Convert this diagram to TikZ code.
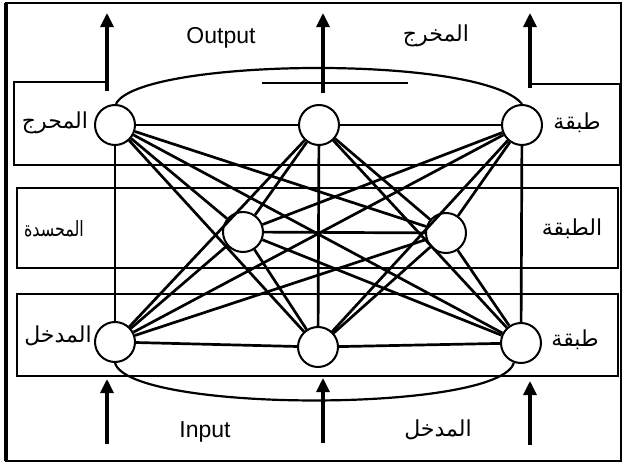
\documentclass[tikz,border=0pt]{standalone}
\usepackage{fontspec}
\usepackage{graphicx}
\setmainfont{Liberation Sans}
\newfontfamily\arabicfont[Script=Arabic]{DejaVu Sans}
\TeXXeTstate=1
\usetikzlibrary{arrows.meta}
\begin{document}
\begin{tikzpicture}[x=1pt,y=-1pt,
  neuron/.style={circle,draw,line width=2pt,fill=white,minimum size=40pt,inner sep=0pt},
  link/.style={line width=2.7pt},
  layerbox/.style={line width=1.6pt},
  arc/.style={line width=2.2pt},
  flow/.style={line width=3.2pt,-{Triangle[length=14pt,width=13pt]}},
  lbl/.style={font=\fontsize{23}{26}\selectfont},
  albl/.style={font=\arabicfont\fontsize{22}{26}\selectfont}]
\useasboundingbox (0,0) rectangle (625,466);
% frame
\draw[line width=2.4pt] (6,3) rectangle (621,461);
\draw[line width=4pt] (6,3) -- (6,461);
% layer boxes
\draw[layerbox] (107,82) -- (14,82) -- (14,165) -- (620,165) -- (620,84) -- (530,84);
\draw[layerbox] (262,83) -- (408,83);
\draw[layerbox] (17,188) rectangle (618,268);
\draw[layerbox] (17,294) rectangle (618,376);
% neurons
\node[neuron] (tl) at (115,125) {};
\node[neuron] (tm) at (319,125) {};
\node[neuron] (tr) at (522,125) {};
\node[neuron] (ml) at (243,232) {};
\node[neuron] (mr) at (446,233) {};
\node[neuron] (bl) at (115,342) {};
\node[neuron] (bm) at (318,347) {};
\node[neuron] (br) at (521,343) {};
% links
\foreach \a/\b in {tl/tm,tm/tr,ml/mr,bl/bm,bm/br,
  tl/bl,tm/bm,tr/br,
  tl/ml,tl/mr,tm/ml,tm/mr,tr/ml,tr/mr,
  bl/ml,bl/mr,bm/ml,bm/mr,br/ml,br/mr,
  tl/bm,tl/br,tm/bl,tm/br,tr/bl,tr/bm}
  \draw[link] (\a) -- (\b);
% loops
\draw[arc] ([xshift=1pt]tl.north) .. controls (138,58) and (482,54) .. (tr.north);
\draw[arc] (bl.south) .. controls (130,413) and (500,413) .. (br.250);
% arrows
\coordinate (o1a) at (107,91); \coordinate (o1b) at (107,13);
\coordinate (o2a) at (323,93); \coordinate (o2b) at (323,13);
\coordinate (o3a) at (530,88); \coordinate (o3b) at (530,13);
\coordinate (i1a) at (107,444); \coordinate (i1b) at (107,379);
\coordinate (i2a) at (323,443); \coordinate (i2b) at (323,378);
\coordinate (i3a) at (530,445); \coordinate (i3b) at (530,381);
\foreach \s/\e in {o1a/o1b,o2a/o2b,o3a/o3b,i1a/i1b,i2a/i2b,i3a/i3b}
  \draw[flow] (\s) -- (\e);
% texts
\node[lbl] (tout) at (221,38) {Output};
\node[albl] (aout) at (436,36) {\beginR المخرج\endR};
\node[lbl] (tin) at (205,432) {Input};
\node[albl] (ain) at (438,430) {\beginR المدخل\endR};
\node[albl] (l1) at (55,123) {\beginR المحرج\endR};
\node[albl,font=\arabicfont\fontsize{21}{24}\selectfont] (l2) at (54,229) {\scalebox{0.76}[1]{\beginR المحسدة\endR}};
\node[albl] (l3) at (58,336) {\beginR المدخل\endR};
\node[albl] (r1) at (577,123) {\beginR طبقة\endR};
\node[albl] (r2) at (572,229) {\beginR الطبقة\endR};
\node[albl] (r3) at (575,340) {\beginR طبقة\endR};
\end{tikzpicture}
\end{document}
